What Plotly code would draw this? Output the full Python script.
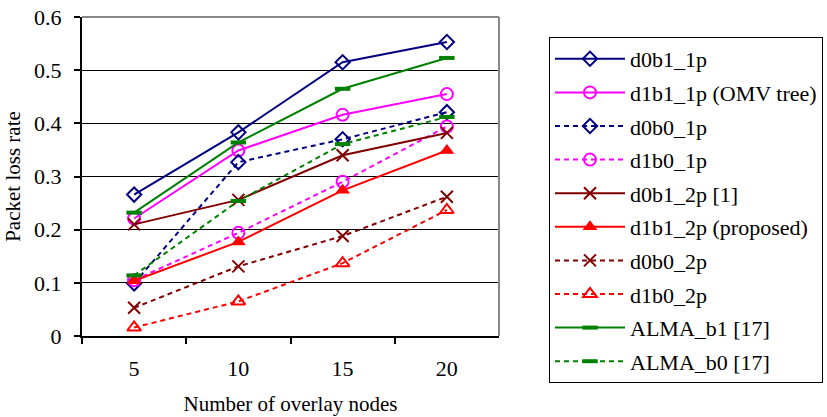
import plotly.graph_objects as go

categories = ["5", "10", "15", "20"]

d0b1_1p = [0.266, 0.383, 0.515, 0.553]
d1b1_1p = [0.221, 0.349, 0.416, 0.455]
d0b0_1p = [0.099, 0.327, 0.370, 0.421]
d1b0_1p = [0.105, 0.194, 0.290, 0.394]
d0b1_2p = [0.210, 0.256, 0.340, 0.382]
d1b1_2p = [0.104, 0.177, 0.274, 0.349]
d0b0_2p = [0.053, 0.131, 0.188, 0.262]
d1b0_2p = [0.016, 0.065, 0.137, 0.237]
alma_b1 = [0.232, 0.364, 0.465, 0.523]
alma_b0 = [0.114, 0.254, 0.361, 0.412]

y_ticks = [0, 0.1, 0.2, 0.3, 0.4, 0.5, 0.6]
y_tick_labels = ["0", "0.1", "0.2", "0.3", "0.4", "0.5", "0.6"]

NAVY = "#000080"
MAG = "#FF00FF"
MAROON = "#800000"
RED = "#FF0000"
GREEN = "#008000"
DOT = "5px,4px"

series = [
    ("d0b1_1p", d0b1_1p, NAVY, "solid", "diamond-open", 11, 2),
    ("d1b1_1p (OMV tree)", d1b1_1p, MAG, "solid", "circle-open", 12, 2),
    ("d0b0_1p", d0b0_1p, NAVY, DOT, "diamond-open", 11, 2),
    ("d1b0_1p", d1b0_1p, MAG, DOT, "circle-open", 12, 2),
    ("d0b1_2p [1]", d0b1_2p, MAROON, "solid", "x-thin-open", 12, 2),
    ("d1b1_2p (proposed)", d1b1_2p, RED, "solid", "triangle-up", 13, 0),
    ("d0b0_2p", d0b0_2p, MAROON, DOT, "x-thin-open", 12, 2),
    ("d1b0_2p", d1b0_2p, RED, DOT, "triangle-up-open", 12, 2),
    ("ALMA_b1 [17]", alma_b1, GREEN, "solid", "line-ew-open", 11, 4),
    ("ALMA_b0 [17]", alma_b0, GREEN, DOT, "line-ew-open", 11, 4),
]

fig = go.Figure()
for i, (name, vals, color, dash, sym, size, mlw) in enumerate(series):
    fig.add_trace(go.Scatter(
        x=categories, y=vals, name=name, mode="lines+markers",
        legendgroup="g%d" % i,
        line=dict(color=color, width=2, dash=dash),
        marker=dict(symbol=sym, size=size, color=color,
                    line=dict(color=color, width=mlw)),
    ))

W, H = 827, 417
FONT = "Times New Roman, Liberation Serif, serif"

fig.update_layout(
    width=W, height=H,
    margin=dict(l=0, r=0, t=0, b=0),
    paper_bgcolor="white", plot_bgcolor="white",
    font=dict(family=FONT, size=22, color="black"),
    showlegend=True,
    legend=dict(
        x=549 / W, y=1 - 37 / H, xanchor="left", yanchor="top",
        bordercolor="black", borderwidth=1,
        font=dict(family=FONT, size=22, color="black"),
        itemwidth=70, tracegroupgap=2, traceorder="grouped",
    ),
    xaxis=dict(
        domain=[82 / W, 499 / W], type="category", automargin=False,
        range=[-0.5, 3.5],
        tickson="boundaries", ticks="outside", ticklen=6, tickcolor="black",
        tickwidth=2, showline=True, linecolor="black", linewidth=2,
        showgrid=False, ticklabelstandoff=12,
        tickfont=dict(family=FONT, size=22),
        title=dict(text="Number of overlay nodes", standoff=16,
                   font=dict(family=FONT, size=21)),
    ),
    yaxis=dict(
        domain=[1 - 336 / H, 1 - 17 / H], range=[0, 0.6], automargin=False,
        tickvals=y_ticks, ticktext=y_tick_labels,
        ticks="outside", ticklen=6, tickcolor="black", tickwidth=2,
        showline=True, linecolor="black", linewidth=2,
        showgrid=True, gridcolor="black", gridwidth=1,
        zeroline=False, ticklabelstandoff=8,
        tickfont=dict(family=FONT, size=22),
        title=dict(text="Packet loss rate", standoff=8,
                   font=dict(family=FONT, size=21)),
    ),
    shapes=[
        dict(type="line", xref="paper", yref="paper",
             x0=82 / W, x1=499 / W, y0=1 - 17 / H, y1=1 - 17 / H,
             line=dict(color="#888888", width=2), layer="above"),
        dict(type="line", xref="paper", yref="paper",
             x0=499 / W, x1=499 / W, y0=1 - 17 / H, y1=1 - 336 / H,
             line=dict(color="#888888", width=2), layer="above"),
    ],
)

fig.write_html("out.html")
